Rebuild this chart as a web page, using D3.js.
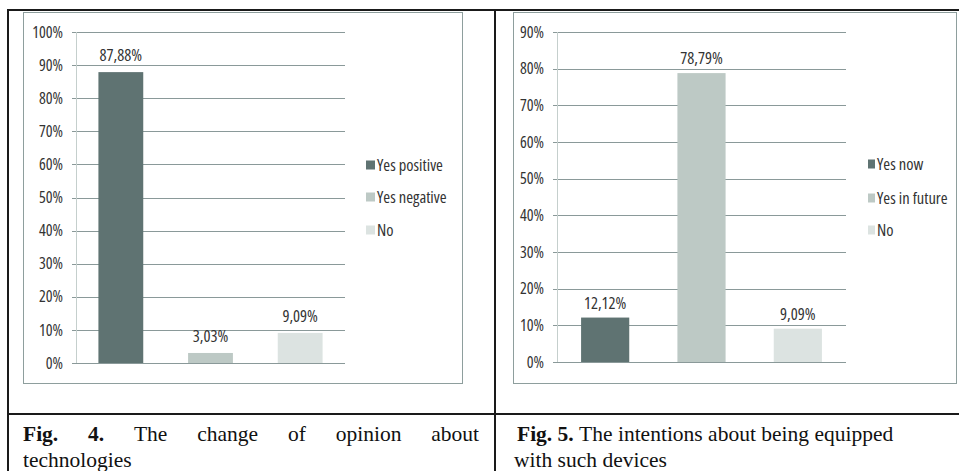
<!DOCTYPE html>
<html>
<head>
<meta charset="utf-8">
<script src="https://cdn.jsdelivr.net/npm/d3@7"></script>
<style>
  body { margin: 0; background: #fff; }
  svg { display: block; }
</style>
</head>
<body>
<script>
// data
var fig4Cats = ["Yes positive", "Yes negative", "No"];
var fig4Vals = [87.88, 3.03, 9.09];
var fig4Ticks = [0, 10, 20, 30, 40, 50, 60, 70, 80, 90, 100];

var fig5Cats = ["Yes now", "Yes in future", "No"];
var fig5Vals = [12.12, 78.79, 9.09];
var fig5Ticks = [0, 10, 20, 30, 40, 50, 60, 70, 80, 90];

var barColors = ["#5f7372", "#bdc9c5", "#dce3e1"];

var caption4 = ["Fig. 4.", "The change of opinion about", "technologies"];
var caption5 = ["Fig. 5.", "The intentions about being equipped", "with such devices"];

var width = 959, height = 471;
var capFont = "'Liberation Serif', 'Times New Roman', serif";

var svg = d3.select("body").append("svg")
  .attr("width", width)
  .attr("height", height);

// try a condensed Open Sans; if the width axis isn't there, use Roboto
var probe = svg.append("text").attr("font-family", "'Open Sans'").attr("font-size", 20).text("Yes in future 100%");
var wNormal = probe.node().getComputedTextLength();
probe.attr("font-stretch", "condensed");
var wCond = probe.node().getComputedTextLength();
probe.remove();
var condensed = wCond < wNormal * 0.93;
var chartFont = condensed ? "'Open Sans'" : "Roboto";
var stretch = condensed ? "condensed" : "normal";
var fsScale = condensed ? 1.0 : 0.9;

// table lines
var ink = "#1a1a1a";
svg.append("line").attr("x1", 7).attr("x2", width).attr("y1", 10).attr("y2", 10)
  .attr("stroke", ink).attr("stroke-width", 2);
svg.append("line").attr("x1", 8).attr("x2", 8).attr("y1", 9).attr("y2", height)
  .attr("stroke", ink).attr("stroke-width", 2);
svg.append("line").attr("x1", 495).attr("x2", 495).attr("y1", 9).attr("y2", height)
  .attr("stroke", ink).attr("stroke-width", 2);
svg.append("line").attr("x1", 7).attr("x2", width).attr("y1", 414).attr("y2", 414)
  .attr("stroke", ink).attr("stroke-width", 2);

function chartText(sel, size) {
  return sel.attr("font-family", chartFont)
    .attr("font-stretch", stretch)
    .attr("font-size", size * fsScale)
    .attr("fill", "#333");
}

function drawChart(opt) {
  var g = svg.append("g");

  // chart area border
  g.append("rect")
    .attr("x", opt.frame[0] + 0.5).attr("y", opt.frame[1] + 0.5)
    .attr("width", opt.frame[2]).attr("height", opt.frame[3])
    .attr("fill", "none").attr("stroke", "#8e9e9d").attr("stroke-width", 1);

  var x = d3.scaleBand()
    .domain(opt.cats)
    .range([opt.x0, opt.x1])
    .paddingInner(0.5)
    .paddingOuter(0.25);

  var y = d3.scaleLinear()
    .domain([0, d3.max(opt.ticks)])
    .range([opt.yBottom, opt.yTop]);

  // gridlines (they stick out a bit left of the axis like tick marks)
  g.selectAll(".grid")
    .data(opt.ticks)
    .enter()
    .append("line")
    .attr("x1", opt.x0 - 4)
    .attr("x2", opt.x1)
    .attr("y1", d => Math.round(y(d)) + 0.5)
    .attr("y2", d => Math.round(y(d)) + 0.5)
    .attr("stroke", "#8a9999")
    .attr("stroke-width", 1);

  // y axis labels
  var axis = d3.axisLeft(y)
    .tickValues(opt.ticks)
    .tickSize(0)
    .tickPadding(13)
    .tickFormat(d => d + "%");

  var ax = g.append("g")
    .attr("transform", `translate(${opt.x0}, 0)`)
    .call(axis);
  ax.select(".domain").remove();
  chartText(ax.selectAll("text"), 16);

  // vertical axis line
  g.append("line")
    .attr("x1", opt.x0 + 0.5).attr("x2", opt.x0 + 0.5)
    .attr("y1", y(d3.max(opt.ticks))).attr("y2", y(0))
    .attr("stroke", "#c5cfcd");

  var rows = opt.cats.map((c, i) => ({ cat: c, val: opt.vals[i], col: barColors[i] }));

  g.selectAll(".bar")
    .data(rows)
    .enter()
    .append("rect")
    .attr("x", d => x(d.cat))
    .attr("width", x.bandwidth())
    .attr("y", d => y(d.val))
    .attr("height", d => y(0) - y(d.val))
    .attr("fill", d => d.col);

  var fmt = d3.format(".2f");
  var lbl = g.selectAll(".lbl")
    .data(rows)
    .enter()
    .append("text")
    .attr("x", d => x(d.cat) + x.bandwidth() / 2)
    .attr("y", d => y(d.val) - opt.labelGap)
    .attr("text-anchor", "middle")
    .text(d => fmt(d.val).replace(".", ",") + "%");
  chartText(lbl, 16.5);

  // legend
  var leg = g.selectAll(".leg")
    .data(rows)
    .enter()
    .append("g")
    .attr("transform", (d, i) => `translate(${opt.legX}, ${opt.legY[i]})`);
  leg.append("rect")
    .attr("x", 0).attr("y", -4.5)
    .attr("width", opt.swatchW).attr("height", 9)
    .attr("fill", d => d.col);
  chartText(leg.append("text")
    .attr("x", opt.swatchW + 2)
    .attr("dy", "0.35em")
    .text(d => d.cat), 16.5);
}

drawChart({
  frame: [23, 12, 439, 371],
  cats: fig4Cats, vals: fig4Vals, ticks: fig4Ticks,
  x0: 76, x1: 345, yBottom: 363, yTop: 32,
  labelGap: 11,
  legX: 366, legY: [165, 197, 230], swatchW: 9
});

drawChart({
  frame: [513, 12, 443, 371],
  cats: fig5Cats, vals: fig5Vals, ticks: fig5Ticks,
  x0: 557, x1: 846, yBottom: 362, yTop: 32,
  labelGap: 9,
  legX: 868, legY: [164, 198, 230], swatchW: 7
});

// captions: bold lead + words; fig 4 first line is justified
function caption(parts, left, right, justify) {
  var words = [{ t: parts[0].split(" ")[0], b: true }, { t: parts[0].split(" ")[1], b: true }]
    .concat(parts[1].split(" ").map(w => ({ t: w, b: false })));
  var fs = 21.5;
  var nodes = words.map(w => svg.append("text")
    .attr("y", 441)
    .attr("font-family", capFont)
    .attr("font-size", fs)
    .attr("font-weight", w.b ? "bold" : "normal")
    .attr("fill", "#111")
    .text(w.t));
  var lens = nodes.map(n => n.node().getComputedTextLength());
  var total = d3.sum(lens);
  var gap = justify ? (right - left - total) / (words.length - 1) : fs * 0.25;
  var cx = left;
  nodes.forEach((n, i) => { n.attr("x", cx); cx += lens[i] + gap; });

  svg.append("text")
    .attr("x", left - (justify ? 0 : 3)).attr("y", 467)
    .attr("font-family", capFont)
    .attr("font-size", fs)
    .attr("fill", "#111")
    .text(parts[2]);
}

caption(caption4, 23, 479, true);
caption(caption5, 517, 950, false);
</script>
</body>
</html>
